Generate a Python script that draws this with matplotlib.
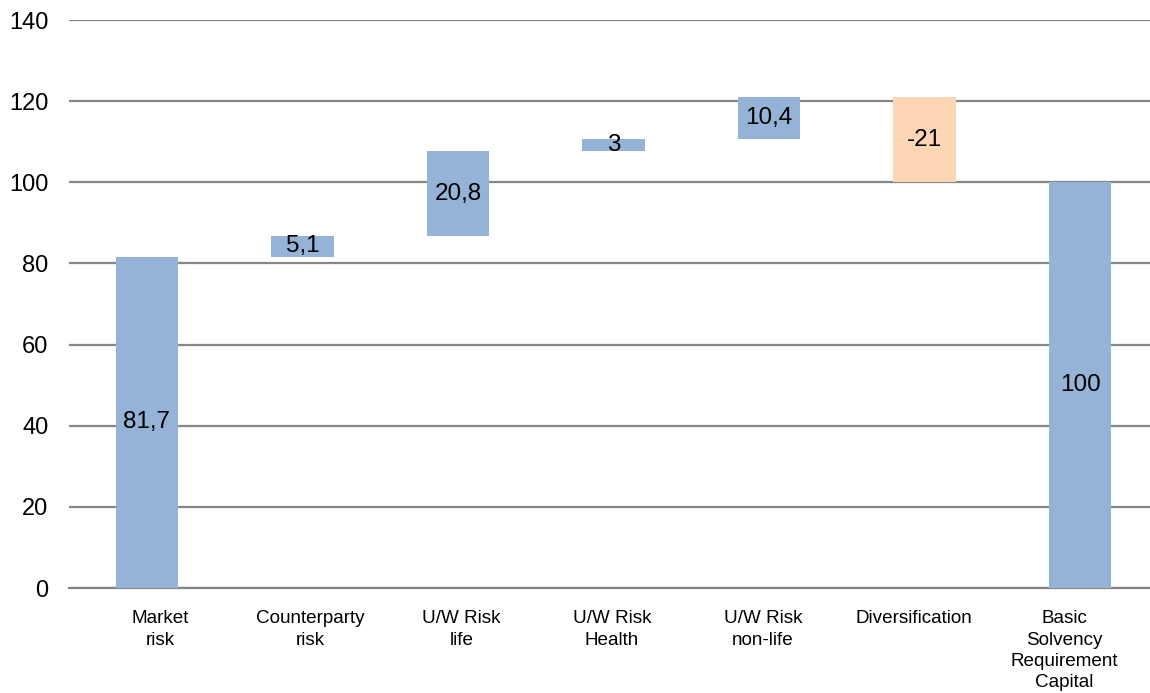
import numpy as np
import matplotlib
matplotlib.use('Agg')
import matplotlib.pyplot as plt

plt.rcParams['font.family'] = ['Liberation Sans', 'DejaVu Sans']

# categories and waterfall steps
categories = ['Market\nrisk', 'Counterparty\nrisk', 'U/W Risk\nlife', 'U/W Risk\nHealth',
              'U/W Risk\nnon-life', 'Diversification', 'Basic\nSolvency\nRequirement\nCapital']
steps = [81.7, 5.1, 20.8, 3, 10.4, -21, 100]
labels = ['81,7', '5,1', '20,8', '3', '10,4', '-21', '100']
is_total = [False, False, False, False, False, False, True]

blue = '#95B3D7'
orange = '#FCD5B5'
grid_col = '#868686'

# bottoms of the floating bars
bottoms = []
running = 0
for s, tot in zip(steps, is_total):
    if tot:
        bottoms.append(0)
    elif s >= 0:
        bottoms.append(running)
        running += s
    else:
        running += s
        bottoms.append(running)
heights = [abs(s) for s in steps]
colors = [orange if s < 0 else blue for s in steps]

fig = plt.figure(figsize=(11.5, 6.93), dpi=100)
ax = fig.add_axes([0.0602, 0.1515, 0.9398, 0.8196])

x = np.arange(len(categories))
ax.bar(x, heights, bottom=bottoms, width=0.4, color=colors, zorder=3)

for xi, b, h, lab in zip(x, bottoms, heights, labels):
    ax.text(xi, b + h / 2, lab, ha='center', va='center', fontsize=17.5, color='black', zorder=4)

ax.set_ylim(0, 140)
ax.set_yticks(range(0, 141, 20))
ax.set_xlim(-0.5, 6.45)
# category labels sit on a slightly narrower spacing than the bars
ax.set_xticks(0.084 + 0.969 * x)
ax.set_xticklabels(categories, fontsize=13.6, linespacing=1.33)
ax.yaxis.grid(True, color=grid_col, linewidth=1.6, zorder=0)
ax.set_axisbelow(True)

for sp in ['left', 'right', 'top']:
    ax.spines[sp].set_visible(False)
ax.spines['bottom'].set_color(grid_col)
ax.spines['bottom'].set_linewidth(1.6)
ax.tick_params(axis='y', length=0, labelsize=17, pad=15)
ax.tick_params(axis='x', length=0, pad=16)

fig.savefig('out.png', dpi=100)
